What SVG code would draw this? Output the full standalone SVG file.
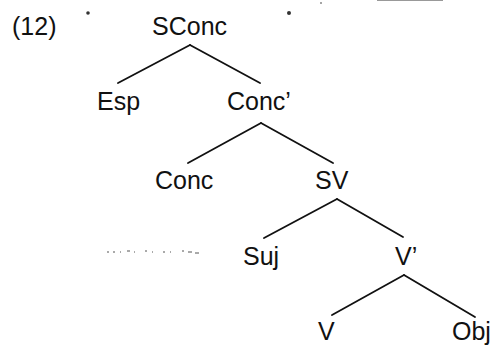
<svg xmlns="http://www.w3.org/2000/svg" width="498" height="350" viewBox="0 0 498 350">
<style>
.t{font-family:"Liberation Sans","Open Sans",sans-serif;font-size:25px;fill:#111}
.e{stroke:#111;stroke-width:1.8;fill:none;stroke-linecap:round}
.n{fill:#333}
</style>
<rect width="498" height="350" fill="#fff"/>
<text class="t" x="12" y="35">(12)</text>
<g id="noise">
<circle class="n" cx="88" cy="13" r="1.8"/>
<circle class="n" cx="289" cy="13" r="2"/>
<circle class="n" cx="321" cy="3" r="0.8"/>
<rect x="377" y="0" width="66" height="1" fill="#999"/>
<path d="M107 252h2M113 252h2M120 252h1M127 251h3M134 252h1M145 251h2M152 252h1M163 252h2M170 252h1M182 251h2M188 252h4M195 253h4" stroke="#555" stroke-width="1" fill="none"/>
</g>
<g id="connectors">
<line class="e" x1="190" y1="45" x2="118" y2="83"/>
<line class="e" x1="190" y1="45" x2="260" y2="83"/>
<line class="e" x1="261" y1="123" x2="188" y2="163"/>
<line class="e" x1="261" y1="123" x2="333" y2="163"/>
<line class="e" x1="337" y1="199" x2="264" y2="238"/>
<line class="e" x1="337" y1="199" x2="403" y2="237"/>
<line class="e" x1="404" y1="275" x2="332" y2="315"/>
<line class="e" x1="404" y1="275" x2="475" y2="317"/>
</g>
<g id="n-sconc"><text class="t" x="152" y="35">SConc</text></g>
<g id="n-esp"><text class="t" x="97" y="110">Esp</text></g>
<g id="n-concbar"><text class="t" x="227" y="110">Conc’</text></g>
<g id="n-conc"><text class="t" x="155" y="189">Conc</text></g>
<g id="n-sv"><text class="t" x="315" y="189">SV</text></g>
<g id="n-suj"><text class="t" x="243" y="265">Suj</text></g>
<g id="n-vbar"><text class="t" x="395" y="265">V’</text></g>
<g id="n-v"><text class="t" x="318" y="340">V</text></g>
<g id="n-obj"><text class="t" x="452" y="340">Obj</text></g>
</svg>
